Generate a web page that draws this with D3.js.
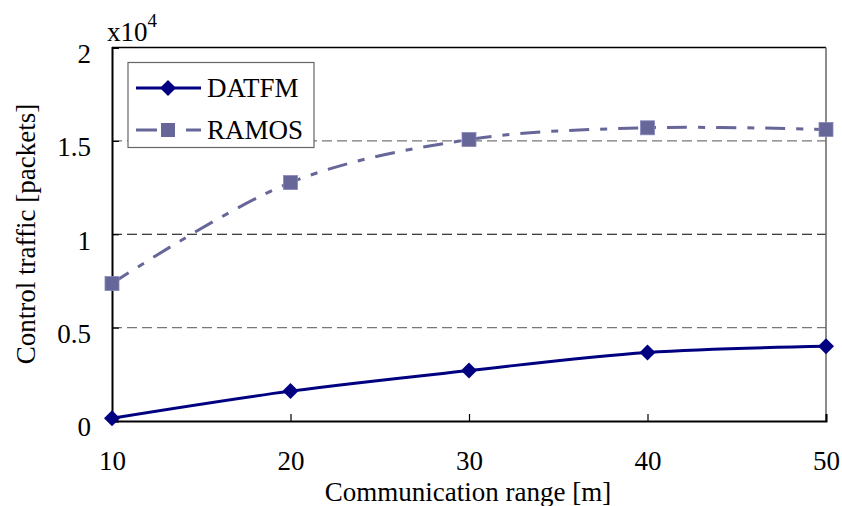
<!DOCTYPE html>
<html><head><meta charset="utf-8">
<script src="https://cdn.jsdelivr.net/npm/d3@7/dist/d3.min.js"></script>
<style>body{margin:0;background:#fff}svg{display:block}text{font-family:"Liberation Serif","Times New Roman",serif;fill:#000}</style>
</head><body><svg id="c" width="842" height="506"></svg>
<script>
const ranges = [10, 20, 30, 40, 50];
const datfm = [0.015, 0.16, 0.27, 0.367, 0.40];
const ramos = [0.736, 1.277, 1.507, 1.57, 1.561];
const yTicks = [0, 0.5, 1, 1.5, 2];
const yTickLabels = ["0", "0.5", "1", "1.5", "2"];
const xTicks = [10, 20, 30, 40, 50];
const seriesNames = ["DATFM", "RAMOS"];

const svg = d3.select("#c");
const L = 112, R = 826, T = 47.5, B = 421;
const x = d3.scaleLinear().domain([10, 50]).range([L, R]);
const y = d3.scaleLinear().domain([0, 2]).range([B, T]);
const FF = '"Liberation Serif","Times New Roman",serif';

// gridlines
svg.append("g").selectAll("line").data([0.5, 1, 1.5]).join("line")
  .attr("x1", L).attr("x2", R).attr("y1", d => y(d)).attr("y2", d => y(d))
  .attr("stroke", d => d === 1 ? "#000" : "#777").attr("stroke-width", 1.2)
  .attr("stroke-dasharray", "10,5");

// frame
svg.append("line").attr("x1", L).attr("x2", R).attr("y1", T).attr("y2", T).attr("stroke", "#000").attr("stroke-width", 1.5);
svg.append("line").attr("x1", R).attr("x2", R).attr("y1", T).attr("y2", B).attr("stroke", "#666").attr("stroke-width", 1.5);

// axes
const ya = d3.axisLeft(y).tickValues(yTicks).tickSize(-7).tickFormat((d,i) => yTickLabels[i]).tickPadding(21);
const gy = svg.append("g").attr("transform", `translate(${L},0)`).call(ya).attr("font-family", FF);
gy.select(".domain").attr("stroke", "#000").attr("stroke-width", 2);
gy.selectAll(".tick line").attr("stroke", "#000").attr("stroke-width", 1.2);
gy.selectAll(".tick text").attr("font-size", 27).attr("dy", "0.55em");

const xa = d3.axisBottom(x).tickValues(xTicks).tickSize(-7).tickPadding(30);
const gx = svg.append("g").attr("transform", `translate(0,${B})`).call(xa).attr("font-family", FF);
gx.select(".domain").attr("stroke", "#000").attr("stroke-width", 2);
gx.selectAll(".tick line").attr("stroke", "#000").attr("stroke-width", 1.2);
gx.selectAll(".tick text").attr("font-size", 27);

// multiplier
const mt = svg.append("text").attr("x", 107).attr("y", 41).attr("font-size", 27);
mt.append("tspan").text("x10");
mt.append("tspan").attr("font-size", 19).attr("dy", -14).text("4");

// axis titles
svg.append("text").attr("x", 468).attr("y", 501).attr("text-anchor", "middle").attr("font-size", 27).text("Communication range [m]");
svg.append("text").attr("transform", "translate(35,234) rotate(-90)").attr("text-anchor", "middle").attr("font-size", 27).text("Control traffic [packets]");

const curve = d3.curveCatmullRom.alpha(0.5);
const line = d3.line().x((d, i) => x(ranges[i])).y(d => y(d)).curve(curve);

const cD = "#000080", cR = "#666699";

svg.append("path").attr("d", line(ramos)).attr("fill", "none").attr("stroke", cR).attr("stroke-width", 3).attr("stroke-dasharray", "20,11,7,11");
svg.append("path").attr("d", line(datfm)).attr("fill", "none").attr("stroke", cD).attr("stroke-width", 3);

const sq = 14, dm = 8;
svg.append("g").selectAll("rect").data(ramos).join("rect")
  .attr("x", (d, i) => x(ranges[i]) - sq/2).attr("y", d => y(d) - sq/2)
  .attr("width", sq).attr("height", sq).attr("fill", cR).attr("stroke", "#8888bb").attr("stroke-width", 0.8);
svg.append("g").selectAll("path").data(datfm).join("path")
  .attr("d", (d, i) => { const cx = x(ranges[i]), cy = y(d); return `M${cx},${cy-dm}L${cx+dm},${cy}L${cx},${cy+dm}L${cx-dm},${cy}Z`; })
  .attr("fill", cD);

// legend
svg.append("rect").attr("x", 128).attr("y", 62.5).attr("width", 186).attr("height", 85).attr("fill", "#fff").attr("stroke", "#666").attr("stroke-width", 1.2);
const legY = [88, 130];
svg.append("line").attr("x1", 136).attr("x2", 201).attr("y1", legY[0]).attr("y2", legY[0]).attr("stroke", cD).attr("stroke-width", 3);
svg.append("path").attr("d", `M168,${legY[0]-dm}L${168+dm},${legY[0]}L168,${legY[0]+dm}L${168-dm},${legY[0]}Z`).attr("fill", cD);
svg.append("line").attr("x1", 136).attr("x2", 201).attr("y1", legY[1]).attr("y2", legY[1]).attr("stroke", cR).attr("stroke-width", 3).attr("stroke-dasharray", "21,11,7,11");
svg.append("rect").attr("x", 168 - sq/2).attr("y", legY[1] - sq/2).attr("width", sq).attr("height", sq).attr("fill", cR);
svg.selectAll(".legt").data(seriesNames).join("text").attr("class", "legt")
  .attr("x", 207).attr("y", (d, i) => legY[i] + 9).attr("font-size", 27).text(d => d);
</script></body></html>
